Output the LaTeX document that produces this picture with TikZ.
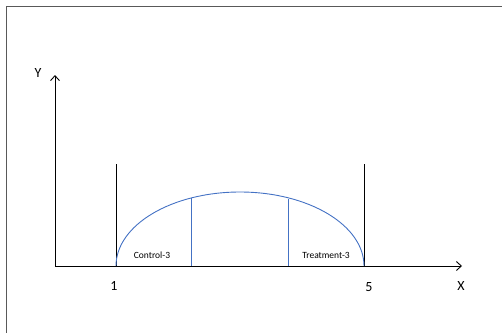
\documentclass[tikz,border=0pt]{standalone}
\usepackage{fontspec}
\setmainfont{Carlito}
\usetikzlibrary{arrows.meta}
\definecolor{curveblue}{RGB}{68,114,196}
\begin{document}
\begin{tikzpicture}[x=1pt,y=-1pt,
  axis/.style={black,line width=0.9pt,-{Straight Barb[length=5pt,width=9pt]}},
  bar/.style={black,line width=0.9pt},
  blueline/.style={curveblue,line width=0.9pt},
  axlabel/.style={font=\fontsize{14}{16}\selectfont,inner sep=0pt},
  small/.style={font=\fontsize{9.5}{11}\selectfont,inner sep=0pt}]
\useasboundingbox (0,0) rectangle (502,332);
\draw[gray!70!black,line width=0.9pt] (6.5,340) -- (6.5,6.5) -- (510,6.5);
\coordinate (O) at (55,266);
\coordinate (Ytop) at (55,75);
\coordinate (Xend) at (462,266);
\coordinate (A) at (116,266);
\coordinate (B) at (364,266);
\coordinate (Atop) at (116,164);
\coordinate (Btop) at (364,164);
\draw[axis] (O) -- (Ytop);
\draw[axis] (O) -- (Xend);
\draw[bar] (A) -- (Atop);
\draw[bar] (B) -- (Btop);
\draw[blueline] (A) arc[start angle=180,end angle=0,x radius=124,y radius=-74];
\coordinate (L1) at (191,266);
\coordinate (L1t) at (191,198.2);
\coordinate (R1) at (288,266);
\coordinate (R1t) at (288,198.8);
\draw[blueline] (L1) -- (L1t);
\draw[blueline] (R1) -- (R1t);
\node[axlabel] (ylab) at (38,73) {Y};
\node[axlabel] (xlab) at (461,286) {X};
\node[axlabel] (one) at (114,286) {1};
\node[axlabel] (five) at (369,287) {5};
\node[small] (ctrl) at (152,255) {Control-3};
\node[small] (trt) at (326,255) {Treatment-3};
\end{tikzpicture}
\end{document}
